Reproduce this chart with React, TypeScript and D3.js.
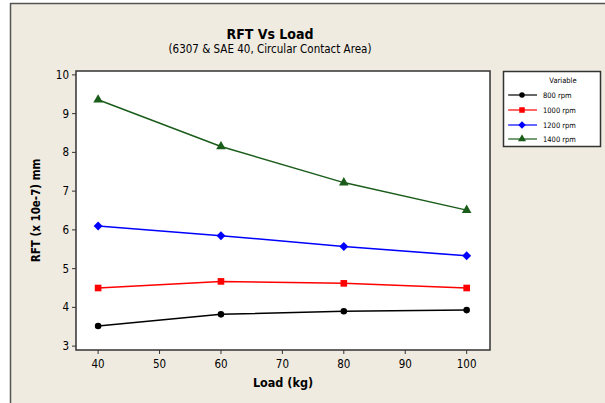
import * as d3 from "d3";

const loads = [40, 60, 80, 100];
const rpm800 = [3.52, 3.82, 3.9, 3.93];
const rpm1000 = [4.5, 4.67, 4.62, 4.5];
const rpm1200 = [6.1, 5.85, 5.57, 5.33];
const rpm1400 = [9.36, 8.15, 7.22, 6.51];
const seriesNames = ["800 rpm", "1000 rpm", "1200 rpm", "1400 rpm"];
const xTicks = [40, 50, 60, 70, 80, 90, 100];
const yTicks = [3, 4, 5, 6, 7, 8, 9, 10];

const colors = ["#000000", "#ff0000", "#0000ff", "#1a5c1a"];
const symbols = [d3.symbolCircle, d3.symbolSquare, d3.symbolSquare, d3.symbolTriangle];
const symbolRotate = [0, 0, 45, 0];
const symbolSizes = [34, 44, 40, 40];

const font = "'DejaVu Sans Condensed', Tahoma, 'DejaVu Sans', sans-serif";

function App() {
  const width = 605;
  const height = 403;
  const plot = { left: 76, top: 71, right: 490, bottom: 350 };

  const x = d3.scaleLinear().domain([36.4, 103.8]).range([plot.left, plot.right]);
  const y = d3.scaleLinear().domain([2.9, 10.1]).range([plot.bottom, plot.top]);

  const allSeries = [rpm800, rpm1000, rpm1200, rpm1400];
  const line = d3
    .line<number>()
    .x((_, i) => x(loads[i]))
    .y((d) => y(d));

  const legendY = [95, 110, 125, 139];

  return (
    <svg width={width} height={height} style={{ position: "absolute", left: 0, top: 0, background: "#ffffff" }}>
      <rect x={10} y={3} width={width} height={height} fill="#efebe1" />
      <line x1={10.5} y1={3} x2={10.5} y2={height} stroke="#555" strokeWidth={1.5} />
      <line x1={10} y1={3.5} x2={width} y2={3.5} stroke="#555" strokeWidth={1.5} />

      <text x={270} y={39} textAnchor="middle" fontSize={14} fontWeight="bold" fontFamily={font}>RFT Vs Load</text>
      <text x={270} y={53} textAnchor="middle" fontSize={11.5} fontFamily={font}>(6307 &amp; SAE 40, Circular Contact Area)</text>

      <rect x={plot.left} y={plot.top} width={plot.right - plot.left} height={plot.bottom - plot.top} fill="#ffffff" stroke="#333" strokeWidth={1.5} />

      {yTicks.map((t) => (
        <g key={t}>
          <line x1={plot.left - 4} x2={plot.left} y1={y(t)} y2={y(t)} stroke="#333" />
          <text x={plot.left - 7} y={y(t)} dy="0.35em" textAnchor="end" fontSize={11.5} fontFamily={font}>{t}</text>
        </g>
      ))}
      {xTicks.map((t) => (
        <g key={t}>
          <line x1={x(t)} x2={x(t)} y1={plot.bottom} y2={plot.bottom + 4} stroke="#333" />
          <text x={x(t)} y={368} textAnchor="middle" fontSize={11.5} fontFamily={font}>{t}</text>
        </g>
      ))}

      <text x={283} y={387} textAnchor="middle" fontSize={12.5} fontWeight="bold" fontFamily={font}>Load (kg)</text>
      <text transform={`translate(40, ${(plot.top + plot.bottom) / 2}) rotate(-90)`} textAnchor="middle" fontSize={11.5} fontWeight="bold" fontFamily={font}>RFT (x 10e-7) mm</text>

      {allSeries.map((s, si) => (
        <g key={si}>
          <path d={line(s)!} fill="none" stroke={colors[si]} strokeWidth={1.5} />
          {s.map((v, i) => (
            <path key={i} transform={`translate(${x(loads[i])}, ${y(v)}) rotate(${symbolRotate[si]})`} d={d3.symbol(symbols[si], symbolSizes[si])()!} fill={colors[si]} />
          ))}
        </g>
      ))}

      <rect x={503.5} y={71.5} width={97} height={75} fill="#ffffff" stroke="#333" strokeWidth={1.5} />
      <text x={563} y={83} textAnchor="middle" fontSize={7.5} fontFamily={font}>Variable</text>
      {seriesNames.map((name, si) => (
        <g key={name}>
          <line x1={508} x2={537} y1={legendY[si]} y2={legendY[si]} stroke={colors[si]} strokeWidth={1.2} />
          <path transform={`translate(522, ${legendY[si]}) rotate(${symbolRotate[si]})`} d={d3.symbol(symbols[si], symbolSizes[si] * 0.7)()!} fill={colors[si]} />
          <text x={543} y={legendY[si]} dy="0.35em" fontSize={7.5} fontFamily={font}>{name}</text>
        </g>
      ))}
    </svg>
  );
}

export default App;
